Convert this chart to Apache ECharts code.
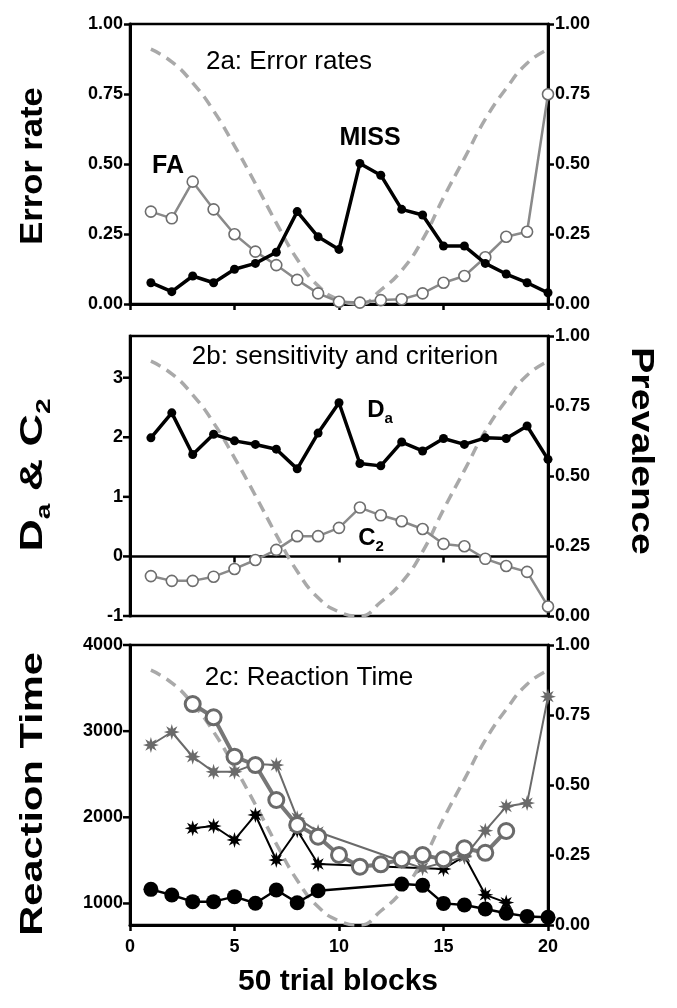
<!DOCTYPE html>
<html>
<head>
<meta charset="utf-8">
<script src="https://cdn.jsdelivr.net/npm/echarts@6/dist/echarts.min.js"></script>
<style>
html, body { margin: 0; padding: 0; background: #fff; }
#main { width: 677px; height: 1008px; }
</style>
</head>
<body>
<div id="main"></div>
<script>
// 50 trial blocks
var blocks = [1, 2, 3, 4, 5, 6, 7, 8, 9, 10, 11, 12, 13, 14, 15, 16, 17, 18, 19, 20]
// prevalence (right axis, dashed)
var prevalence = [0.91, 0.865, 0.79, 0.69, 0.565, 0.43, 0.29, 0.16, 0.065, 0.015, 0.0, 0.05, 0.12, 0.23, 0.38, 0.52, 0.66, 0.77, 0.86, 0.91]
// 2a error rates
var missRate = [0.076, 0.044, 0.10, 0.076, 0.124, 0.145, 0.185, 0.33, 0.24, 0.195, 0.502, 0.46, 0.338, 0.318, 0.207, 0.207, 0.145, 0.107, 0.076, 0.04]
var faRate = [0.33, 0.306, 0.437, 0.338, 0.249, 0.187, 0.139, 0.086, 0.038, 0.008, 0.005, 0.014, 0.017, 0.038, 0.076, 0.10, 0.167, 0.24, 0.258, 0.749]
// 2b sensitivity and criterion
var dA = [1.99, 2.41, 1.71, 2.05, 1.94, 1.88, 1.80, 1.47, 2.07, 2.58, 1.56, 1.52, 1.92, 1.77, 1.98, 1.88, 1.99, 1.98, 2.19, 1.63]
var c2 = [-0.33, -0.41, -0.41, -0.34, -0.21, -0.06, 0.11, 0.34, 0.34, 0.48, 0.82, 0.69, 0.59, 0.46, 0.21, 0.17, -0.04, -0.16, -0.26, -0.84]
// 2c reaction time (ms)
var rtBlackDot = [1164, 1098, 1021, 1021, 1079, 1002, 1156, 1009, 1148, null, null, null, 1225, 1210, 1001, 982, 935, 886, 850, 840]
var rtBlackStar = [null, null, 1872, 1899, 1737, 2027, 1504, 1850, 1458, null, null, null, null, null, 1400, 1550, 1100, 1010, null, null]
var rtGreyStar = [2839, 2990, 2703, 2528, 2528, 2620, 2607, 1990, 1830, null, null, null, 1490, 1410, null, 1540, 1845, 2125, 2165, 3400]
var rtGreyRing = [null, null, 3315, 3161, 2704, 2607, 2201, 1911, 1775, 1563, 1427, 1454, 1512, 1562, 1512, 1640, 1588, 1841, null, null]

// tick values on the left axes of 2b and 2c
var daTicks = [-1, 0, 1, 2, 3]
var rtTicks = [1000, 2000, 3000, 4000]

var FONT = '"Liberation Sans", Arial, Helvetica, sans-serif'

function pairs(arr) {
  return blocks.map(function(b, i) { return [b, arr[i]] }).filter(function(p) { return p[1] != null })
}

function starPath(n, r1, r2) {
  var d = ''
  for (var k = 0; k < 2 * n; k++) {
    var a = k * Math.PI / n - Math.PI / 2
    var r = k % 2 ? r2 : r1
    d += (k ? 'L' : 'M') + (r * Math.cos(a)).toFixed(3) + ' ' + (r * Math.sin(a)).toFixed(3)
  }
  return 'path://' + d + 'Z'
}
var STAR = starPath(8, 1, 0.45)

var chart = echarts.init(document.getElementById('main'))

var tickLabel = { color: '#000', fontSize: 18, fontWeight: 'bold', fontFamily: FONT, margin: 7 }
var axisLine = { lineStyle: { color: '#000', width: 3 } }
var axisTick = { length: 6, lineStyle: { color: '#000', width: 2.5 } }

function grid(top) {
  return { left: 130, right: 129, top: top, height: 280, show: true, borderColor: '#000', borderWidth: 2.5 }
}

function xAxis(gi, labels, extra) {
  return Object.assign({
    gridIndex: gi, type: 'value', min: 0, max: 20, interval: 5,
    axisLine: axisLine, axisTick: axisTick,
    axisLabel: Object.assign({}, tickLabel, { show: labels, margin: 13 }),
    splitLine: { show: false }
  }, extra || {})
}

function prevAxis(gi) {
  return {
    gridIndex: gi, type: 'value', position: 'right', min: 0, max: 1, interval: 0.25,
    axisLine: { show: true, onZero: false, lineStyle: { color: '#000', width: 3 } }, axisTick: axisTick,
    axisLabel: Object.assign({ formatter: function(v) { return v.toFixed(2) } }, tickLabel),
    splitLine: { show: false }
  }
}

// left axis whose labels sit only on the listed values
function leftAxis(gi, min, max, step, values) {
  return {
    gridIndex: gi, type: 'value', min: min, max: max, interval: step,
    axisLine: { show: true, onZero: false, lineStyle: { color: '#000', width: 3 } },
    axisTick: { show: false },
    axisLabel: Object.assign({
      formatter: function(v) { return values.indexOf(v) >= 0 ? String(v) : '' }
    }, tickLabel),
    splitLine: { show: false }
  }
}

function prevSeries(gi) {
  return {
    type: 'line', xAxisIndex: gi, yAxisIndex: gi * 2 + 1, data: pairs(prevalence),
    smooth: 0.5, showSymbol: false, silent: true, z: 1,
    lineStyle: { color: '#a9a9a9', width: 3.5, type: [11, 7] }
  }
}

// outward tick marks for those left axes
function tickSeries(gi, yi, values) {
  return {
    type: 'custom', xAxisIndex: gi, yAxisIndex: yi, silent: true, clip: false, z: 10,
    data: values.map(function(v) { return [0, v] }),
    renderItem: function(params, api) {
      var p = api.coord([api.value(0), api.value(1)])
      return {
        type: 'line',
        shape: { x1: p[0] - 7, y1: p[1], x2: p[0], y2: p[1] },
        style: { stroke: '#000', lineWidth: 2.5 }
      }
    }
  }
}

function text(x, y, str, size, weight, extra) {
  return Object.assign({
    type: 'text', x: x, y: y, z: 100,
    style: { text: str, fill: '#000', font: weight + ' ' + size + 'px ' + FONT, textAlign: 'center', textVerticalAlign: 'middle' }
  }, extra || {})
}

function subText(x, y, str, big, small, drop, extra) {
  return Object.assign({
    type: 'text', x: x, y: y, z: 100,
    style: {
      text: str, textAlign: 'center', textVerticalAlign: 'middle',
      rich: {
        b: { font: 'bold ' + big + 'px ' + FONT, fill: '#000', verticalAlign: 'bottom' },
        s: { font: 'bold ' + small + 'px ' + FONT, fill: '#000', verticalAlign: 'bottom', padding: [0, 0, -drop, 0] }
      }
    }
  }, extra || {})
}

chart.setOption({
  animation: false,
  backgroundColor: '#fff',
  grid: [grid(24), grid(336), grid(645)],
  xAxis: [
    xAxis(0, false),
    xAxis(1, false, { axisLine: { onZero: true, onZeroAxisIndex: 2, lineStyle: { color: '#000', width: 2.5 } } }),
    xAxis(2, true)
  ],
  yAxis: [
    {
      gridIndex: 0, type: 'value', min: 0, max: 1, interval: 0.25,
      axisLine: { show: true, onZero: false, lineStyle: { color: '#000', width: 3 } }, axisTick: axisTick,
      axisLabel: Object.assign({ formatter: function(v) { return v.toFixed(2) } }, tickLabel),
      splitLine: { show: false }
    },
    prevAxis(0),
    leftAxis(1, -1, 3.7, 1, daTicks),
    prevAxis(1),
    leftAxis(2, 750, 4000, 250, rtTicks),
    prevAxis(2)
  ],
  series: [
    prevSeries(0),
    {
      name: 'FA', type: 'line', xAxisIndex: 0, yAxisIndex: 0, data: pairs(faRate),
      symbol: 'circle', symbolSize: 11, z: 3,
      lineStyle: { color: '#8a8a8a', width: 2.5 },
      itemStyle: { color: '#fff', borderColor: '#6e6e6e', borderWidth: 1.6 }
    },
    {
      name: 'MISS', type: 'line', xAxisIndex: 0, yAxisIndex: 0, data: pairs(missRate),
      symbol: 'circle', symbolSize: 9, z: 4,
      lineStyle: { color: '#000', width: 3.5 },
      itemStyle: { color: '#000' }
    },
    prevSeries(1),
    tickSeries(1, 2, daTicks),
    {
      name: 'C2', type: 'line', xAxisIndex: 1, yAxisIndex: 2, data: pairs(c2),
      symbol: 'circle', symbolSize: 11, z: 3,
      lineStyle: { color: '#8a8a8a', width: 2.5 },
      itemStyle: { color: '#fff', borderColor: '#6e6e6e', borderWidth: 1.6 }
    },
    {
      name: 'Da', type: 'line', xAxisIndex: 1, yAxisIndex: 2, data: pairs(dA),
      symbol: 'circle', symbolSize: 9, z: 4,
      lineStyle: { color: '#000', width: 3.5 },
      itemStyle: { color: '#000' }
    },
    prevSeries(2),
    tickSeries(2, 4, rtTicks),
    {
      name: 'RT black star', type: 'line', xAxisIndex: 2, yAxisIndex: 4, data: pairs(rtBlackStar),
      symbol: STAR, symbolSize: 16, z: 3,
      lineStyle: { color: '#000', width: 2 },
      itemStyle: { color: '#000' }
    },
    {
      name: 'RT grey star', type: 'line', xAxisIndex: 2, yAxisIndex: 4, data: pairs(rtGreyStar),
      symbol: STAR, symbolSize: 16, z: 4,
      lineStyle: { color: '#6a6a6a', width: 2 },
      itemStyle: { color: '#6a6a6a' }
    },
    {
      name: 'RT grey ring', type: 'line', xAxisIndex: 2, yAxisIndex: 4, data: pairs(rtGreyRing),
      symbol: 'circle', symbolSize: 15, z: 5,
      lineStyle: { color: '#777', width: 4 },
      itemStyle: { color: '#fff', borderColor: '#6a6a6a', borderWidth: 3 }
    },
    {
      name: 'RT black dot', type: 'line', xAxisIndex: 2, yAxisIndex: 4, data: pairs(rtBlackDot),
      symbol: 'circle', symbolSize: 15, z: 6,
      lineStyle: { color: '#000', width: 2.5 },
      itemStyle: { color: '#000' }
    }
  ],
  graphic: [
    text(289, 62, '2a: Error rates', 26, 'normal'),
    text(345, 357, '2b: sensitivity and criterion', 26, 'normal'),
    text(309, 678, '2c: Reaction Time', 26, 'normal'),
    text(168, 166, 'FA', 25, 'bold'),
    text(370, 138, 'MISS', 25, 'bold'),
    subText(380, 410, '{b|D}{s|a}', 24, 15, 4),
    subText(371, 538, '{b|C}{s|2}', 24, 15, 4),
    text(33, 166, 'Error rate', 32, 'bold', { rotation: Math.PI / 2, scaleX: 1.08 }),
    subText(33, 475, '{b|D}{s|a}{b| & C}{s|2}', 32, 20, 5, { rotation: Math.PI / 2, scaleX: 1.4 }),
    text(33, 794, 'Reaction Time', 32, 'bold', { rotation: Math.PI / 2, scaleX: 1.3 }),
    text(641, 451, 'Prevalence', 32, 'bold', { rotation: -Math.PI / 2, scaleX: 1.23 }),
    text(338, 982, '50 trial blocks', 30, 'bold')
  ]
})
</script>
</body>
</html>
